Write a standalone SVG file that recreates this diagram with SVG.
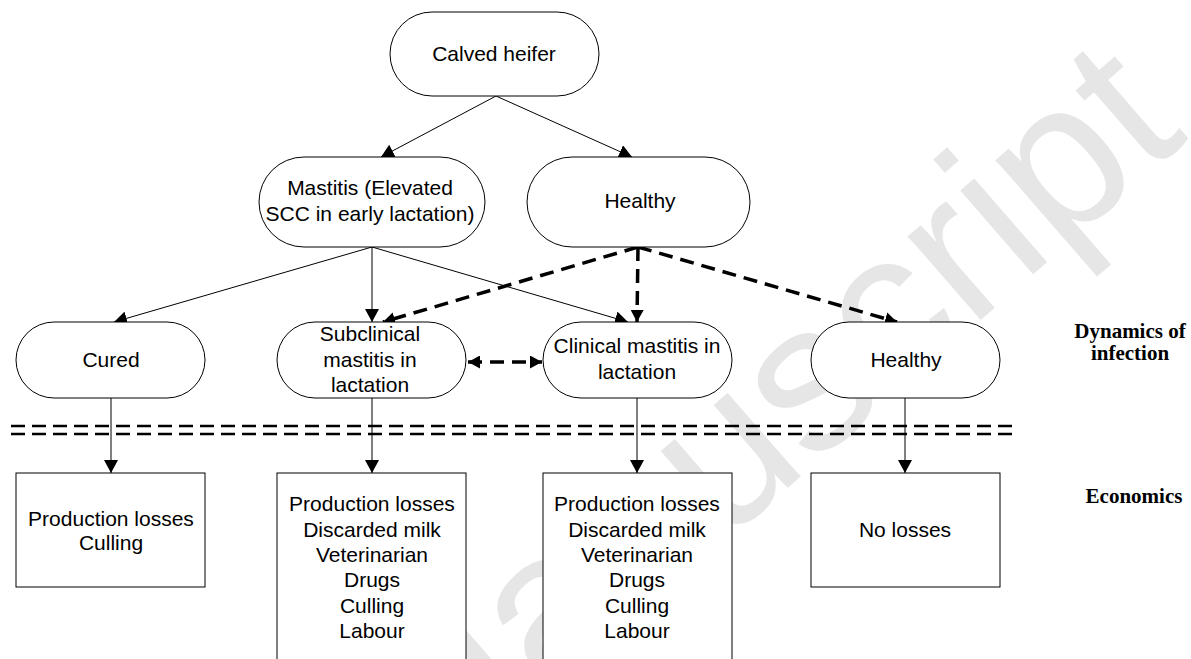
<svg xmlns="http://www.w3.org/2000/svg" width="1191" height="659" viewBox="0 0 1191 659">
<style>
.n{fill:#fff;stroke:#000;stroke-width:1}
.t{font-family:"Liberation Sans",Arial,sans-serif;font-size:21px;fill:#000;text-anchor:middle}
.s{font-family:"Liberation Serif","Times New Roman",serif;font-size:21px;font-weight:bold;fill:#000;text-anchor:middle}
.c{fill:none;stroke:#000;stroke-width:1}
.d{fill:none;stroke:#000;stroke-width:3.5;stroke-dasharray:14 8}
.h{fill:none;stroke:#000;stroke-width:2.5;stroke-dasharray:14 7}
.wm{font-family:"Liberation Sans",Arial,sans-serif;font-size:210px;fill:#e6e6e6}
</style>
<defs>
<marker id="a" markerUnits="userSpaceOnUse" markerWidth="14" markerHeight="14" refX="13" refY="7" orient="auto">
<path d="M0,0 L13,7 L0,14 Z" fill="#000"/>
</marker>
<marker id="b" markerUnits="userSpaceOnUse" markerWidth="13" markerHeight="13" refX="12" refY="6.5" orient="auto-start-reverse">
<path d="M0,0 L12,6.5 L0,13 Z" fill="#000"/>
</marker>
</defs>
<rect width="1191" height="659" fill="#fff"/>
<text class="wm" x="1190" y="138" text-anchor="end" transform="rotate(-41 1190 138)">Accepted Manuscript</text>

<g id="connectors">
<line class="c" x1="496" y1="96" x2="381" y2="157" marker-end="url(#a)"/>
<line class="c" x1="496" y1="96" x2="632" y2="157" marker-end="url(#a)"/>
<line class="c" x1="372" y1="247" x2="114" y2="322" marker-end="url(#a)"/>
<line class="c" x1="372" y1="247" x2="372" y2="322" marker-end="url(#a)"/>
<line class="c" x1="372" y1="247" x2="628" y2="322" marker-end="url(#a)"/>
<line class="d" x1="638" y1="247" x2="383" y2="322" marker-end="url(#b)"/>
<line class="d" x1="638" y1="247" x2="637" y2="322" marker-end="url(#b)"/>
<line class="d" x1="638" y1="247" x2="897" y2="322" marker-end="url(#b)"/>
<line class="d" x1="468" y1="362" x2="542" y2="362" stroke-dasharray="10 6" marker-start="url(#b)" marker-end="url(#b)"/>
<line class="h" x1="11" y1="426" x2="1014" y2="426"/>
<line class="h" x1="11" y1="434" x2="1014" y2="434"/>
<line class="c" x1="111" y1="398" x2="111" y2="473" marker-end="url(#a)"/>
<line class="c" x1="372" y1="398" x2="372" y2="473" marker-end="url(#a)"/>
<line class="c" x1="637" y1="398" x2="637" y2="473" marker-end="url(#a)"/>
<line class="c" x1="905" y1="398" x2="905" y2="473" marker-end="url(#a)"/>
</g>

<g id="calved">
<rect class="n" x="390" y="12" width="209" height="84" rx="42"/>
<text class="t" x="494" y="61">Calved heifer</text>
</g>
<g id="mastitis">
<rect class="n" x="259" y="157" width="226" height="90" rx="45"/>
<text class="t" x="370" y="195">Mastitis (Elevated</text>
<text class="t" x="370" y="221">SCC in early lactation)</text>
</g>
<g id="healthy-top">
<rect class="n" x="527" y="157" width="223" height="90" rx="45"/>
<text class="t" x="640" y="208">Healthy</text>
</g>
<g id="cured">
<rect class="n" x="16" y="322" width="189" height="76" rx="38"/>
<text class="t" x="111" y="367">Cured</text>
</g>
<g id="subclinical">
<rect class="n" x="277" y="322" width="189" height="76" rx="38"/>
<text class="t" x="370" y="341">Subclinical</text>
<text class="t" x="370" y="367">mastitis in</text>
<text class="t" x="370" y="392">lactation</text>
</g>
<g id="clinical">
<rect class="n" x="543" y="322" width="189" height="76" rx="38"/>
<text class="t" x="637" y="353">Clinical mastitis in</text>
<text class="t" x="637" y="379">lactation</text>
</g>
<g id="healthy-bottom">
<rect class="n" x="811" y="322" width="189" height="76" rx="38"/>
<text class="t" x="906" y="367">Healthy</text>
</g>
<g id="box-cured">
<rect class="n" x="16" y="473" width="189" height="114"/>
<text class="t" x="111" y="526">Production losses</text>
<text class="t" x="111" y="550">Culling</text>
</g>
<g id="box-subclinical">
<rect class="n" x="277" y="473" width="189" height="200"/>
<text class="t" x="372" y="511">Production losses</text>
<text class="t" x="372" y="537">Discarded milk</text>
<text class="t" x="372" y="562">Veterinarian</text>
<text class="t" x="372" y="587">Drugs</text>
<text class="t" x="372" y="613">Culling</text>
<text class="t" x="372" y="638">Labour</text>
</g>
<g id="box-clinical">
<rect class="n" x="543" y="473" width="189" height="200"/>
<text class="t" x="637" y="511">Production losses</text>
<text class="t" x="637" y="537">Discarded milk</text>
<text class="t" x="637" y="562">Veterinarian</text>
<text class="t" x="637" y="587">Drugs</text>
<text class="t" x="637" y="613">Culling</text>
<text class="t" x="637" y="638">Labour</text>
</g>
<g id="box-healthy">
<rect class="n" x="811" y="473" width="189" height="114"/>
<text class="t" x="905" y="537">No losses</text>
</g>
<g id="labels">
<text class="s" x="1130" y="338">Dynamics of</text>
<text class="s" x="1130" y="360">infection</text>
<text class="s" x="1134" y="503">Economics</text>
</g>
</svg>
